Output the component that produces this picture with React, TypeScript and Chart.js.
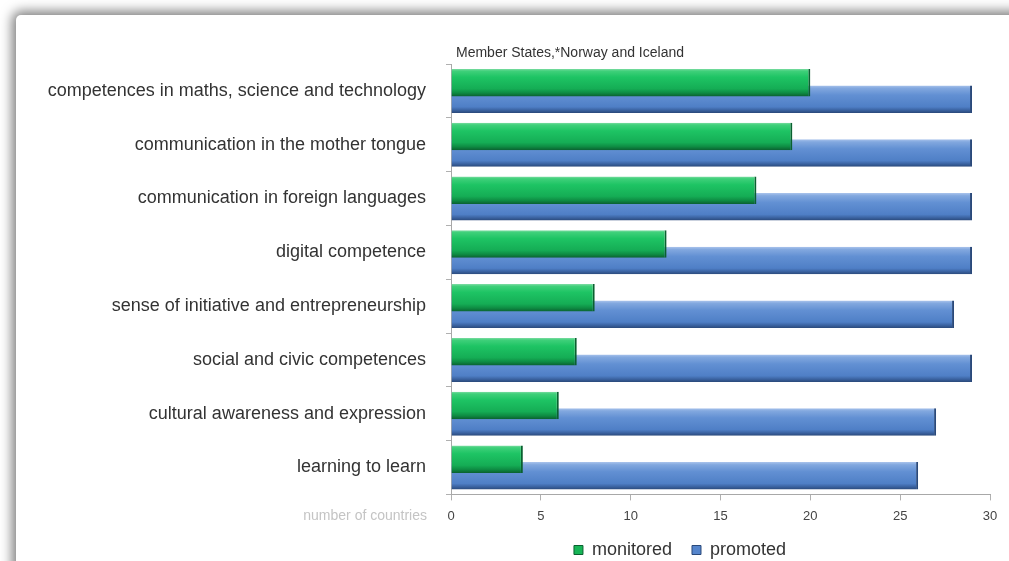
import { useEffect, useRef } from 'react';
import { Chart, registerables } from 'chart.js';

Chart.register(...registerables);

const categories = [
  'competences in maths, science and technology',
  'communication in the mother tongue',
  'communication in foreign languages',
  'digital competence',
  'sense of initiative and entrepreneurship',
  'social and civic competences',
  'cultural awareness and expression',
  'learning to learn',
];
const monitored = [20, 19, 17, 12, 8, 7, 6, 4];
const promoted = [29, 29, 29, 29, 28, 29, 27, 26];
const xTicks = [0, 5, 10, 15, 20, 25, 30];
const seriesNames = ['monitored', 'promoted'];
const titleText = 'Member States,*Norway and Iceland';
const xAxisLabel = 'number of countries';

const FONT = "'Liberation Sans', Arial, sans-serif";
const CAT_PCT = 0.614;
const BAR_PCT = 1.667;

const greenStops: [number, string][] = [
  [0, '#7fdca4'],
  [0.08, '#3fd07a'],
  [0.3, '#1ec464'],
  [0.72, '#15ad55'],
  [0.87, '#0e8c43'],
  [1, '#0a6030'],
];
const blueStops: [number, string][] = [
  [0, '#aac4ec'],
  [0.1, '#82a8df'],
  [0.35, '#6290d3'],
  [0.78, '#4f7fc6'],
  [0.9, '#3a62a0'],
  [1, '#2a497a'],
];

function barGradient(ctx: any, stops: [number, string][], side: number) {
  const chart = ctx.chart;
  const y = chart.scales && chart.scales.y;
  if (!y || ctx.type !== 'data') return stops[2][1];
  const n = categories.length;
  const catW = (y.bottom - y.top) / n;
  const chunk = (catW * CAT_PCT) / 2;
  const center = y.getPixelForValue(ctx.dataIndex) + (side * chunk) / 2;
  const half = (chunk * BAR_PCT) / 2;
  const g = chart.ctx.createLinearGradient(0, center - half, 0, center + half);
  stops.forEach(([o, c]) => g.addColorStop(o, c));
  return g;
}

const legendFill = ['#17b556', '#5585cc'];
const legendStroke = ['#0a6030', '#2a497a'];

const extraText = {
  id: 'extraText',
  afterLayout(chart: any) {
    const l = chart.legend;
    if (!l) return;
    const desired = 680;
    const d = desired - (l.left + l.right) / 2;
    l.left += d;
    l.right += d;
    l.top -= 11;
    l.bottom -= 11;
  },
  afterDraw(chart: any) {
    const ctx = chart.ctx;
    const x = chart.scales.x;
    ctx.save();
    ctx.font = `14px ${FONT}`;
    ctx.fillStyle = '#333';
    ctx.textAlign = 'left';
    ctx.textBaseline = 'middle';
    ctx.fillText(titleText, x.left + 5, 53);
    ctx.fillStyle = '#c4c4c4';
    ctx.textAlign = 'right';
    ctx.font = `14px ${FONT}`;
    ctx.fillText(xAxisLabel, x.left - 24, x.top + 6 + 8 + 7.8);
    ctx.restore();
  },
};

export default function App() {
  const ref = useRef<HTMLCanvasElement>(null);
  useEffect(() => {
    if (!ref.current) return;
    const chart = new Chart(ref.current, {
      type: 'bar',
      data: {
        labels: categories,
        datasets: [
          {
            label: seriesNames[0],
            data: monitored,
            backgroundColor: (c: any) => barGradient(c, greenStops, -1),
            borderColor: '#0a6030',
            borderWidth: { top: 0, right: 2, bottom: 0, left: 0 },
            borderSkipped: 'start',
          },
          {
            label: seriesNames[1],
            data: promoted,
            backgroundColor: (c: any) => barGradient(c, blueStops, 1),
            borderColor: '#2a497a',
            borderWidth: { top: 0, right: 2, bottom: 0, left: 0 },
            borderSkipped: 'start',
          },
        ],
      },
      options: {
        indexAxis: 'y',
        responsive: false,
        animation: false,
        categoryPercentage: CAT_PCT,
        barPercentage: BAR_PCT,
        layout: { padding: { top: 64, right: 19, left: 0, bottom: -19 } },
        scales: {
          x: {
            min: 0,
            max: 30,
            afterBuildTicks: (s: any) => {
              s.ticks = xTicks.map((v) => ({ value: v }));
            },
            grid: {
              drawOnChartArea: false,
              drawTicks: true,
              tickLength: 6,
              color: '#b0b0b0',
            },
            border: { display: true, color: '#a8a8a8' },
            ticks: {
              font: { family: FONT, size: 13 },
              color: '#444',
              padding: 8,
              maxRotation: 0,
            },
          },
          y: {
            type: 'category',
            afterFit: (s: any) => {
              s.width = 451;
            },
            grid: {
              drawOnChartArea: false,
              drawTicks: true,
              tickLength: 5,
              color: '#b0b0b0',
              offset: true,
            },
            border: { display: true, color: '#a8a8a8' },
            ticks: {
              font: { family: FONT, size: 18 },
              color: '#333',
              padding: 20,
            },
          },
        },
        plugins: {
          title: { display: false },
          tooltip: { enabled: false },
          legend: {
            display: true,
            position: 'bottom',
            labels: {
              font: { family: FONT, size: 18 },
              color: '#333',
              boxWidth: 9,
              boxHeight: 9,
              padding: 20,
              generateLabels: (ch: any) =>
                ch.data.datasets.map((ds: any, i: number) => ({
                  text: ds.label,
                  fillStyle: legendFill[i],
                  strokeStyle: legendStroke[i],
                  lineWidth: 1,
                  hidden: false,
                  datasetIndex: i,
                  fontColor: '#333',
                })),
            },
          },
        },
      },
      plugins: [extraText],
    } as any);
    return () => chart.destroy();
  }, []);

  return (
    <div
      style={{
        position: 'fixed',
        left: 0,
        top: 0,
        width: 1009,
        height: 561,
        overflow: 'hidden',
        background: '#fff',
      }}
    >
      <div
        style={{
          position: 'absolute',
          left: 16,
          top: 15,
          width: 1100,
          height: 700,
          background: '#fff',
          borderRadius: 5,
          boxShadow: '0 0 12px 4px rgba(0,0,0,0.5)',
        }}
      />
      <canvas
        ref={ref}
        width={1009}
        height={561}
        style={{ position: 'absolute', left: 0, top: 0, width: 1009, height: 561 }}
      />
    </div>
  );
}
